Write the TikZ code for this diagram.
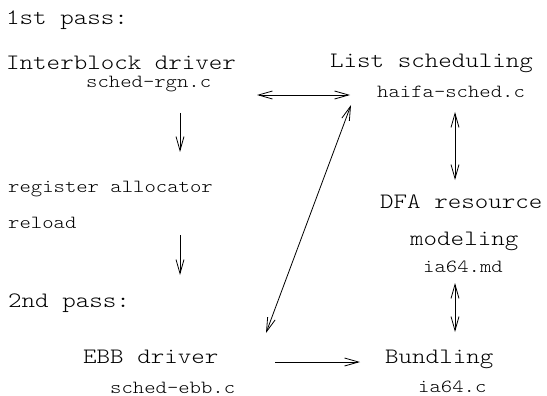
\documentclass[tikz,border=0pt]{standalone}
\usepackage{fontspec}
\usetikzlibrary{arrows.meta}
% light typewriter face, widened, for all labels
\newfontfamily\labelface{lmmonolt10-regular.otf}[FakeStretch=1.17]
\newcommand{\labelfont}[1]{\fontsize{#1}{#1}\labelface}
\begin{document}
\begin{tikzpicture}[x=1pt,y=-1pt,
  big/.style={anchor=base west,inner sep=0pt,font=\labelfont{22}},
  small/.style={anchor=base west,inner sep=0pt,font=\labelfont{18.5}},
  flow/.style={line width=0.8pt,-{Straight Barb[length=14pt,width=8pt,line width=0.8pt]}},
  both/.style={line width=0.8pt,{Straight Barb[length=14pt,width=8pt,line width=0.8pt]}-{Straight Barb[length=14pt,width=8pt,line width=0.8pt]}}]
\useasboundingbox (0,0) rectangle (547,396);
% left column: first pass
\node[big]   (pass1)  at (6,25)   {1st pass:};
\node[big]   (inter)  at (6,70)   {Interblock driver};
\node[small] (rgn)    at (86,88)  {sched-rgn.c};
\node[small] (regal)  at (8,192)  {register allocator};
\node[small] (reload) at (8,228)  {reload};
\node[big]   (pass2)  at (8,307)  {2nd pass:};
\node[big]   (ebb)    at (83,363) {EBB driver};
\node[small] (ebbc)   at (110,393){sched-ebb.c};
% right column: scheduler and resource model
\node[big]   (list)   at (330,68)  {List scheduling};
\node[small] (haifa)  at (377,98)  {haifa-sched.c};
\node[big]   (dfa)    at (380,208) {DFA resource};
\node[big]   (model)  at (410,245) {modeling};
\node[small] (md)     at (423,272) {ia64.md};
\node[big]   (bund)   at (385,363) {Bundling};
\node[small] (iac)    at (418,392) {ia64.c};
% arrow end points
\coordinate (rgnS)   at (180,113);
\coordinate (regN)   at (180,152);
\coordinate (relS)   at (180,235);
\coordinate (p2N)    at (180,275);
\coordinate (rgnE)   at (257,95);
\coordinate (haifaW) at (350,95);
\coordinate (haifaSW) at (351,105);
\coordinate (ebbNE)  at (266,333);
\coordinate (haifaS) at (455,112);
\coordinate (dfaN)   at (455,180);
\coordinate (mdS)    at (455,283);
\coordinate (bundN)  at (455,332);
\coordinate (ebbE)   at (275,362);
\coordinate (bundW)  at (360,362);
% connectors
\draw[flow] (rgnS) -- (regN);
\draw[flow] (relS) -- (p2N);
\draw[both] (rgnE) -- (haifaW);
\draw[both] (ebbNE) -- (haifaSW);
\draw[both] (haifaS) -- (dfaN);
\draw[both] (mdS) -- (bundN);
\draw[flow] (ebbE) -- (bundW);
\end{tikzpicture}
\end{document}
